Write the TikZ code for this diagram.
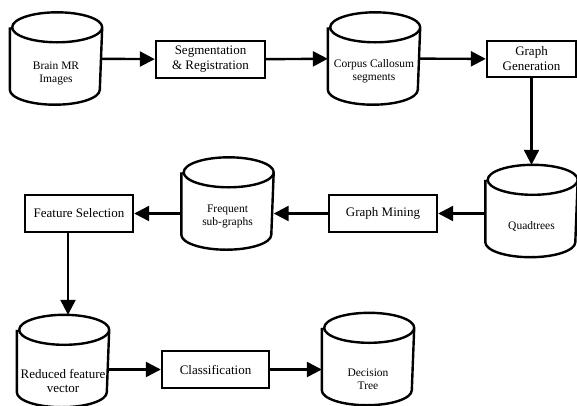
\documentclass[tikz,border=0pt]{standalone}
\usepackage{fontspec}
\setmainfont{Liberation Serif}
\usetikzlibrary{positioning,arrows.meta}

\begin{document}
\begin{tikzpicture}[
     x=1pt, y=1pt,
     line width=2.4pt,
     % define styles
     block/.style={
         draw,
         minimum width=108pt,
         minimum height=37pt,
         inner sep=1pt,
         align=center,
         font=\fontsize{13}{15}\selectfont
     },
     cyltext/.style={
         align=center,
         yshift=-15pt,
         font=\fontsize{11.5}{13}\selectfont
     },
     cyl/.style={
         minimum width=90pt,
         minimum height=90pt,
         inner sep=0pt,
         append after command={
             \pgfextra{
                 \draw[line width=2.4pt]
                     ([yshift=-15pt]\tikzlastnode.north west)
                     -- ([yshift=15pt]\tikzlastnode.south west)
                     arc[start angle=180, end angle=360, x radius=45pt, y radius=15pt]
                     -- ([yshift=-15pt]\tikzlastnode.north east)
                     arc[start angle=0, end angle=360, x radius=45pt, y radius=15pt];
             }
         }
     },
     conn/.style={->, line width=2.4pt},
     >={Triangle[length=15pt,width=15pt]}
]
\useasboundingbox (0,0) rectangle (577,-405);

% first row
\node[cyl, label={[cyltext]center:{Brain MR\\Images}}] (brain) at (56,-58.5) {};
\node[block, minimum width=109pt] (seg) at (210.5,-59.5) {Segmentation\\\& Registration};
\node[cyl, label={[cyltext, yshift=2pt]center:{Corpus Callosum\\segments}}] (corpus) at (374,-58.5) {};
\node[block, minimum width=89pt, minimum height=36pt] (gen) at (531.5,-59) {Graph\\Generation};

% second row
\node[cyl, label={[cyltext]center:{Quadtrees}}] (quad) at (531.5,-211) {};
\node[block] (mining) at (383,-213.5) {Graph Mining};
\node[cyl, label={[cyltext, yshift=2pt]center:{Frequent\\sub-graphs}}] (freq) at (227.5,-203.5) {};
\node[block] (feat) at (79,-213.5) {Feature Selection};

% third row
\node[cyl, label={[cyltext, yshift=-5pt, font=\fontsize{13}{14}\selectfont]center:{Reduced feature\\vector}}] (reduced) at (63,-361) {};
\node[block, minimum width=107pt] (class) at (215.5,-369.5) {Classification};
\node[cyl, label={[cyltext, yshift=-5pt]center:{Decision\\Tree}}] (decision) at (368,-359) {};

% connectors
\draw[conn] (brain) -- (seg);
\draw[conn] (seg) -- (corpus);
\draw[conn] (corpus) -- (gen);
\draw[conn] (gen.south) -- (gen.south |- quad.north);
\draw[conn] (mining -| quad.west) -- (mining.east);
\draw[conn] (mining.west) -- (mining -| freq.east);
\draw[conn] (feat -| freq.west) -- (feat.east);
\draw[conn] ([xshift=-11pt]feat.south) -- ([xshift=-11pt]feat.south |- reduced.north);
\draw[conn] (class -| reduced.east) -- (class.west);
\draw[conn] (class.east) -- (class -| decision.west);
\end{tikzpicture}
\end{document}
